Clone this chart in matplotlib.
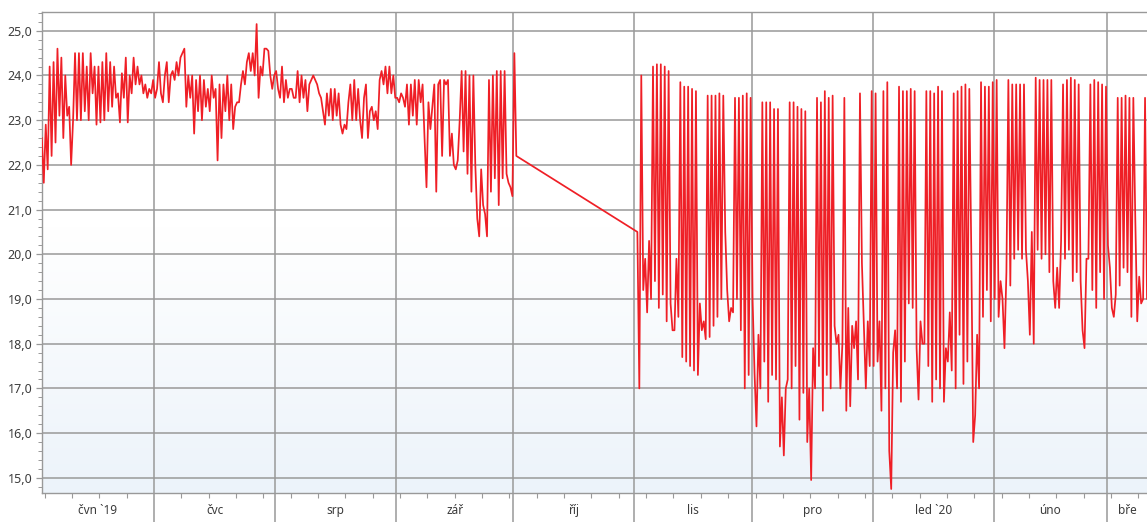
import numpy as np
import pandas as pd
import matplotlib
matplotlib.use('Agg')
import matplotlib.pyplot as plt
import matplotlib.dates as mdates
from matplotlib.colors import LinearSegmentedColormap
from matplotlib.ticker import MultipleLocator, FixedLocator

plt.rcParams['font.family'] = ['Noto Sans', 'DejaVu Sans']

# temperature readings, two per day (06:00 and 18:00), one list per month
jun = [22.6, 21.6, 22.9, 21.9, 24.2, 22.2, 24.3, 22.5, 24.6, 23.1,
       24.4, 22.6, 24.0, 23.1, 23.3, 22.0, 23.0, 24.5, 23.0, 24.5,
       23.0, 24.5, 23.2, 24.2, 23.0, 24.5, 23.6, 24.2, 22.9, 24.2,
       22.95, 24.3, 23.0, 24.5, 23.2, 24.3, 23.3, 24.2, 23.5, 23.6,
       22.95, 24.05, 23.5, 24.4, 22.95, 24.0, 23.6, 24.4, 23.8, 24.2,
       23.8, 24.0, 23.6, 23.8, 23.5, 23.7, 23.6, 23.9]
jul = [23.5, 23.7, 24.3, 23.6, 23.4, 24.0, 24.3, 23.4, 24.0, 24.1,
       23.9, 24.3, 24.0, 24.4, 24.5, 24.6, 23.3, 24.0, 23.5, 24.0,
       22.7, 23.9, 23.2, 24.0, 23.0, 23.9, 23.3, 23.7, 23.2, 24.0,
       23.5, 23.7, 22.1, 23.8, 22.6, 23.8, 23.2, 24.0, 23.0, 23.8,
       22.8, 23.3, 23.4, 23.4, 23.8, 24.1, 23.8, 24.3, 24.5, 24.1,
       24.5, 24.0, 25.15, 23.5, 24.2, 24.0, 24.6, 24.6, 24.55, 24.0,
       23.7, 24.0]
aug = [24.1, 23.7, 23.5, 24.2, 23.4, 23.9, 23.5, 23.7, 23.7, 23.5,
       23.5, 24.1, 23.4, 24.0, 23.5, 23.9, 23.2, 23.8, 23.9, 24.0,
       23.9, 23.8, 23.6, 23.5, 23.2, 22.9, 23.6, 23.1, 23.7, 23.0,
       23.7, 23.1, 23.6, 22.9, 22.7, 22.9, 22.8, 23.4, 23.8, 23.0,
       23.9, 23.0, 23.7, 23.0, 22.6, 23.5, 23.8, 22.6, 23.2, 23.3,
       23.0, 23.2, 22.8, 23.9, 24.1, 23.8, 24.2, 23.6, 24.2, 23.6,
       24.0, 23.5]
sep = [23.5, 23.4, 23.6, 23.5, 23.3, 23.8, 22.9, 23.8, 23.1, 23.9,
       22.9, 23.9, 23.4, 23.8, 22.6, 21.5, 23.4, 22.8, 23.3, 23.8,
       21.4, 23.8, 23.9, 22.2, 23.9, 23.8, 23.9, 22.2, 22.7, 22.0,
       21.9, 22.1, 23.0, 24.1, 22.3, 24.1, 21.8, 24.0, 21.4, 24.0,
       22.0, 20.8, 20.4, 21.9, 21.1, 20.9, 20.4, 23.9, 21.4, 24.0,
       21.7, 24.1, 21.1, 24.1, 21.7, 24.1, 21.8, 21.6, 21.5, 21.3,
       24.5, 22.2]
nov = [20.5, 17.0, 24.0,
       19.2, 19.9, 18.7, 20.3, 19.0, 24.2, 19.4, 24.25, 18.8, 24.25,
       19.1, 24.2, 18.5, 24.1, 18.9, 18.3, 18.3, 19.9, 18.6, 23.85,
       17.7, 23.75, 17.6, 23.75, 17.5, 23.7, 17.4, 23.65, 17.3, 18.9,
       18.3, 18.5, 18.1, 23.55, 18.15, 23.55, 18.4, 23.55, 18.6, 23.6,
       19.0, 23.55, 20.5, 19.2, 18.5, 18.8, 18.7, 23.5, 19.0, 23.5,
       18.3, 23.55, 17.0, 23.6, 17.3, 23.5]
dec = [19.0, 17.35, 16.15, 18.2, 17.0, 23.4, 17.6, 23.4, 16.7, 23.4,
       17.3, 23.25, 17.2, 23.25, 15.7, 16.8, 15.5, 17.0, 17.2, 23.4,
       17.0, 23.4, 17.5, 23.3, 16.3, 23.25, 16.9, 23.2, 15.8, 17.0,
       14.95, 17.9, 17.0, 23.5, 17.5, 23.4, 16.5, 23.65, 17.3, 23.5,
       17.0, 23.55, 18.4, 18.0, 18.2, 17.0, 18.0, 23.5, 16.5, 18.8,
       16.6, 18.4, 17.9, 18.5, 17.2, 23.6, 19.8, 18.4, 17.0, 18.5,
       17.5, 23.65]
jan = [17.5, 23.6, 17.6, 18.5, 16.5, 23.65, 17.0, 23.85, 15.6, 14.75,
       17.8, 18.3, 17.0, 23.75, 16.7, 23.65, 17.6, 23.65, 18.9, 23.7,
       18.8, 23.65, 17.9, 16.75, 18.5, 18.0, 18.0, 23.65, 17.5, 23.65,
       16.7, 23.6, 17.2, 23.75, 17.0, 23.65, 16.7, 17.9, 17.6, 18.7,
       17.4, 23.6, 17.0, 23.65, 18.2, 23.75, 17.1, 23.8, 17.6, 23.7,
       20.1, 15.8, 16.4, 18.2, 17.0, 23.85, 18.6, 23.75, 19.2, 23.75,
       18.5, 23.85]
feb = [19.0, 23.9, 18.6, 19.4, 19.0, 17.9, 19.6, 23.9, 19.3, 23.8,
       19.9, 23.8, 20.1, 23.8, 19.9, 23.8, 20.1, 19.4, 18.2, 20.5,
       18.0, 23.95, 20.1, 23.9, 19.9, 23.9, 20.0, 23.9, 19.6, 23.9,
       19.4, 18.8, 19.7, 18.8, 20.3, 23.8, 19.9, 23.9, 20.1, 23.95,
       19.4, 23.9, 19.6, 23.8, 19.4, 18.3, 17.9, 19.9, 19.9, 23.8,
       19.2, 23.9, 18.8, 23.85, 19.6, 23.8, 19.0, 23.75]
mar = [20.2, 19.7, 18.8, 18.6, 19.1, 23.5, 19.3, 23.5, 19.7, 23.55,
       19.6, 23.5, 18.6, 23.5, 20.8, 18.5, 19.5, 18.9, 19.0, 23.5,
       19.0, 19.0]

segment_starts = ['2019-06-02 06:00', '2019-07-01 06:00', '2019-08-01 06:00',
                  '2019-09-01 06:00', '2019-11-01 18:00', '2019-12-01 06:00',
                  '2020-01-01 06:00', '2020-02-01 06:00', '2020-03-01 06:00']
segment_values = [jun, jul, aug, sep, nov, dec, jan, feb, mar]

month_labels = ['čvn `19', 'čvc', 'srp', 'zář', 'říj', 'lis', 'pro',
                'led `20', 'úno', 'bře']
y_ticks = [15, 16, 17, 18, 19, 20, 21, 22, 23, 24, 25]

times, temps = [], []
for start, vals in zip(segment_starts, segment_values):
    t = pd.Timestamp(start) + pd.to_timedelta(np.arange(len(vals)) * 12, unit='h')
    times.extend(t)
    temps.extend(vals)

grid_col = '#999999'
fig = plt.figure(figsize=(11.47, 5.22), dpi=100)
ax = fig.add_axes([42 / 1147, 29 / 522, 1105 / 1147, 481 / 522])

# pale blue wash in the lower half of the plot area
cmap = LinearSegmentedColormap.from_list(
    'wash', [(0.0, '#ecf3fa'), (0.55, '#ffffff'), (1.0, '#ffffff')])
grad = np.linspace(0, 1, 256).reshape(-1, 1)
ax.imshow(grad, extent=[0, 1, 0, 1], transform=ax.transAxes, aspect='auto',
          cmap=cmap, origin='lower', zorder=0, interpolation='bilinear')

ax.plot(times, temps, color='#ef1f26', lw=1.25, zorder=3)

x0 = pd.Timestamp('2019-06-02 07:00')
x1 = pd.Timestamp('2020-03-11 06:00')
ax.set_xlim(x0, x1)
ax.set_ylim(14.66, 25.42)

month_starts = pd.date_range('2019-07-01', '2020-03-01', freq='MS')
ax.xaxis.set_major_locator(FixedLocator(mdates.date2num(month_starts)))
ax.xaxis.set_minor_locator(mdates.WeekdayLocator(byweekday=mdates.MO))
ax.set_xticklabels([])
ax.tick_params(axis='x', which='major', length=24, width=1.1, color=grid_col)
ax.tick_params(axis='x', which='minor', length=3.5, width=0.8, color=grid_col)

ax.set_yticks(y_ticks)
ax.set_yticklabels([f'{v:.1f}'.replace('.', ',') for v in y_ticks])
ax.yaxis.set_minor_locator(MultipleLocator(0.2))
ax.tick_params(axis='y', which='major', length=4, width=0.9, color=grid_col,
               labelsize=9, labelcolor='#3c3c3c', pad=3)
ax.tick_params(axis='y', which='minor', length=3, width=0.7, color=grid_col)

ax.grid(which='major', color=grid_col, lw=1.1, zorder=1)
ax.set_axisbelow(True)

for side in ['left', 'top', 'bottom']:
    ax.spines[side].set_color(grid_col)
    ax.spines[side].set_linewidth(1.0)
ax.spines['right'].set_visible(False)

# month names centred in each visible month span
edges = [mdates.date2num(x0)] + list(mdates.date2num(month_starts)) + [mdates.date2num(x1)]
for i, lab in enumerate(month_labels):
    mid = (edges[i] + edges[i + 1]) / 2
    ax.text(mid, -0.037, lab, transform=ax.get_xaxis_transform(), ha='center',
            va='center', fontsize=8.5, color='#3c3c3c', clip_on=False)

fig.savefig('out.png', dpi=100)
